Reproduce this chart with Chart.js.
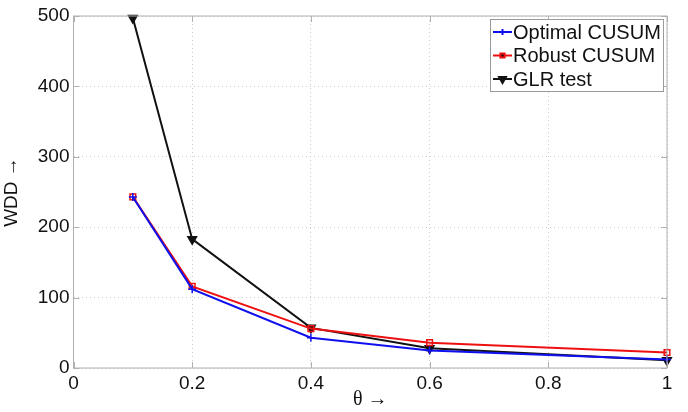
<!DOCTYPE html>
<html>
<head>
<meta charset="utf-8">
<script src="https://cdn.jsdelivr.net/npm/chart.js@4.4.0/dist/chart.umd.min.js"></script>
<style>
  html, body { margin: 0; padding: 0; background: #fff; }
  #wrap { width: 688px; height: 412px; }
</style>
</head>
<body>
<div id="wrap"><canvas id="myChart" width="688" height="412"></canvas></div>
<script>
// values
var theta = [0.1, 0.2, 0.4, 0.6, 1];
var optimal_cusum = [243, 112, 43, 25, 12];
var robust_cusum = [243, 116, 56, 36, 22];
var glr_test = [497, 183, 57, 28, 11];
var x_ticks = [0, 0.2, 0.4, 0.6, 0.8, 1];
var y_ticks = [0, 100, 200, 300, 400, 500];

var FONT = 'Liberation Sans, Arial, sans-serif';

function toPoints(ys) {
    return theta.map((t, i) => ({x: t, y: ys[i]}));
}

// box round the plot area, inward tick marks and legend inside it, MATLAB style
var boxAndLegend = {
    id: 'boxAndLegend',
    afterDatasetsDraw(chart) {
        var ctx = chart.ctx;
        var a = chart.chartArea;
        var sx = chart.scales.x, sy = chart.scales.y;
        ctx.save();
        ctx.strokeStyle = '#b0b0b0';
        ctx.lineWidth = 1;
        ctx.strokeRect(a.left, a.top, a.right - a.left, a.bottom - a.top);

        // small inward ticks
        ctx.beginPath();
        x_ticks.forEach((v) => {
            var px = Math.round(sx.getPixelForValue(v)) + 0.5;
            ctx.moveTo(px, a.bottom); ctx.lineTo(px, a.bottom - 6);
            ctx.moveTo(px, a.top); ctx.lineTo(px, a.top + 6);
        });
        y_ticks.forEach((v) => {
            var py = Math.round(sy.getPixelForValue(v)) + 0.5;
            ctx.moveTo(a.left, py); ctx.lineTo(a.left + 6, py);
            ctx.moveTo(a.right, py); ctx.lineTo(a.right - 6, py);
        });
        ctx.stroke();

        // legend
        var lx = 490, ly = 19, lw = 173, lh = 72;
        ctx.fillStyle = '#fff';
        ctx.fillRect(lx, ly, lw, lh);
        ctx.strokeStyle = '#9a9a9a';
        ctx.strokeRect(lx + 0.5, ly + 0.5, lw, lh);
        ctx.font = '20px ' + FONT;
        ctx.textBaseline = 'middle';
        chart.data.datasets.forEach((ds, i) => {
            var yy = ly + 13 + i * 23.5;
            ctx.strokeStyle = ds.borderColor;
            ctx.lineWidth = 2;
            ctx.beginPath();
            ctx.moveTo(lx + 3, yy);
            ctx.lineTo(lx + 22, yy);
            ctx.stroke();
            Chart.helpers.drawPoint(ctx, {
                pointStyle: ds.pointStyle, radius: ds.pointRadius - 1,
                rotation: ds.pointRotation || 0, borderWidth: 1.5
            }, lx + 12.5, yy);
            ctx.fillStyle = '#111';
            ctx.fillText(ds.label, lx + 23, yy + 1);
        });
        ctx.restore();
    }
};

var ctx = document.getElementById('myChart').getContext('2d');

var myChart = new Chart(ctx, {
    type: 'line',
    data: {
        datasets: [{
            label: 'Optimal CUSUM',
            data: toPoints(optimal_cusum),
            borderColor: '#1010ee',
            backgroundColor: '#1010ee',
            borderWidth: 2,
            pointStyle: 'cross',
            pointRadius: 4,
            pointBorderWidth: 1.5
        }, {
            label: 'Robust CUSUM',
            data: toPoints(robust_cusum),
            borderColor: '#ee1010',
            backgroundColor: 'rgba(255,255,255,0)',
            borderWidth: 2,
            pointStyle: 'rect',
            pointRadius: 4,
            pointBorderWidth: 1.5
        }, {
            label: 'GLR test',
            data: toPoints(glr_test),
            borderColor: '#111111',
            backgroundColor: '#111111',
            borderWidth: 2,
            pointStyle: 'triangle',
            pointRotation: 180,
            pointRadius: 5,
            pointBorderWidth: 1.5
        }]
    },
    options: {
        responsive: false,
        animation: false,
        clip: false,
        layout: { padding: { left: 0, right: 21, top: 16, bottom: 0 } },
        plugins: {
            legend: { display: false },
            tooltip: { enabled: false }
        },
        elements: { line: { tension: 0 } },
        scales: {
            x: {
                type: 'linear',
                min: 0, max: 1,
                afterBuildTicks: (s) => { s.ticks = x_ticks.map(v => ({value: v})); },
                afterFit: (s) => { s.height = 44; },
                grid: { color: '#cccccc', drawTicks: false, tickLength: 0 },
                // in v4 border.dash is what dots the grid lines
                border: { display: false, dash: [1, 3] },
                ticks: {
                    color: '#111', padding: 4,
                    font: { family: FONT, size: 19 },
                    callback: (v) => String(v)
                },
                title: {
                    display: true, text: 'θ →', color: '#111',
                    font: { family: 'Liberation Serif, serif', size: 20 },
                    padding: { top: 0, bottom: 0 }
                }
            },
            y: {
                min: 0, max: 500,
                afterBuildTicks: (s) => { s.ticks = y_ticks.map(v => ({value: v})); },
                afterFit: (s) => { s.width = 73.5; },
                grid: { color: '#cccccc', drawTicks: false, tickLength: 0 },
                border: { display: false, dash: [1, 3] },
                ticks: {
                    color: '#111', padding: 4,
                    font: { family: FONT, size: 19 }
                },
                title: {
                    display: true, text: 'WDD →', color: '#111',
                    font: { family: FONT, size: 19 },
                    padding: { top: 0, bottom: 2 }
                }
            }
        }
    },
    plugins: [boxAndLegend]
});
</script>
</body>
</html>
